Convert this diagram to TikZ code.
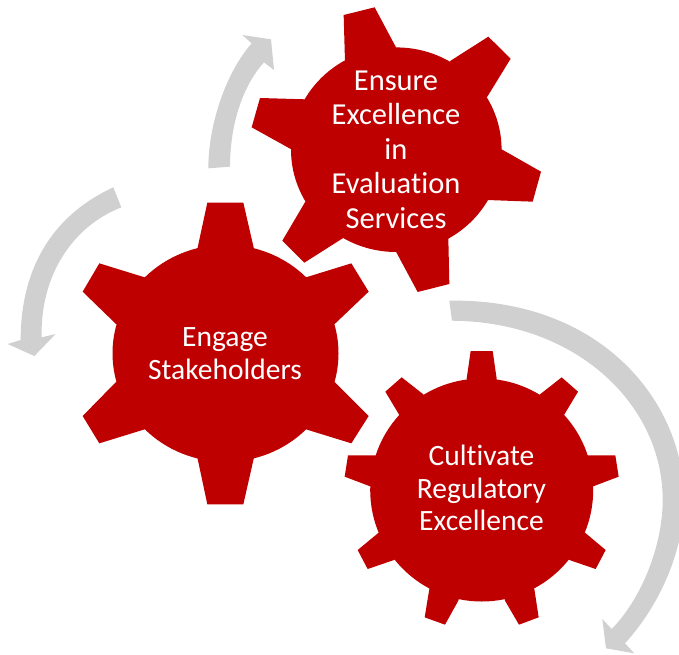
\documentclass[tikz,border=0pt]{standalone}
\usepackage{fontspec}
\usetikzlibrary{shapes.geometric}
\setmainfont[Ligatures=CommonOff]{Carlito}
\definecolor{gearred}{HTML}{BE0000}
\definecolor{arrowgray}{HTML}{D0D0D0}
\tikzset{
  gearbody/.style={ellipse,fill=gearred,inner sep=0pt,outer sep=0pt},
  tooth/.style={fill=gearred},
  flowarrow/.style={fill=arrowgray},
  gearlabel/.style={text=white,align=center,inner sep=0pt,font=\fontsize{29.5}{32.7}\selectfont},
  gearlabelbig/.style={gearlabel,font=\fontsize{30.5}{34.5}\selectfont}
}
\begin{document}
\begin{tikzpicture}[x=1pt,y=-1pt]
\useasboundingbox (0,0) rectangle (679,654);
% grey arrows
\begin{scope}[shift={(200,0)},x=0.33333pt,y=-0.33333pt]
\fill[flowarrow] (25,505) .. controls (25,370) and (80,215) .. (155,130) -- (127,105) -- (213,118) -- (222,210) -- (192,187) .. controls (130,255) and (90,370) .. (90,500) -- cycle;
\end{scope}
\begin{scope}[shift={(0,180)},x=0.33333pt,y=-0.33333pt]
\fill[flowarrow] (340,22) .. controls (170,100) and (62,250) .. (62,480) -- (23,492) -- (103,528) -- (167,462) -- (125,472) .. controls (120,290) and (215,140) .. (364,82) -- cycle;
\end{scope}
\fill[flowarrow] (449.3,300.7) .. controls (599,298) and (684,400) .. (684,500)
  .. controls (684,550) and (660,605) .. (625,643.3)
  -- (634.3,653.3) -- (606,648.3) -- (602.3,619) -- (611.7,629)
  .. controls (642,598) and (662.7,545) .. (662.7,500)
  .. controls (662.7,405) and (577,321.5) .. (452,320.7) -- cycle;
% gear: Ensure Excellence
\begin{scope}[shift={(200,0)},x=0.33333pt,y=-0.33333pt]
\fill[tooth] (589,449) -- (435,185) -- (431,45) -- (524,22) -- (588,142) -- cycle;
\fill[tooth] (589,449) -- (752,182) -- (865,110) -- (932,176) -- (862,290) -- cycle;
\fill[tooth] (589,449) -- (905,448) -- (1023,515) -- (998,605) -- (862,600) -- cycle;
\fill[tooth] (589,449) -- (745,715) -- (748,852) -- (653,876) -- (588,755) -- cycle;
\fill[tooth] (589,449) -- (428,715) -- (313,788) -- (247,722) -- (316,605) -- cycle;
\fill[tooth] (589,449) -- (274,448) -- (155,382) -- (180,294) -- (318,298) -- cycle;
\end{scope}
\node[gearbody,minimum width=210.6pt,minimum height=204.6pt] (ensure) at (396.3,149.7) {};
\node[gearlabelbig] (ensuretext) at (396,149.5) {Ensure\\Excellence\\in\\Evaluation\\Services};
% gear: Engage Stakeholders
\begin{scope}[shift={(0,180)},x=0.33333pt,y=-0.33333pt]
\fill[tooth] (676,520) -- (592,207) -- (622,68) -- (730,68) -- (762,207) -- cycle;
\fill[tooth] (676,520) -- (918,292) -- (1054,250) -- (1106,335) -- (1004,432) -- cycle;
\fill[tooth] (676,520) -- (1004,606) -- (1106,708) -- (1054,790) -- (918,748) -- cycle;
\fill[tooth] (676,520) -- (762,832) -- (730,973) -- (622,973) -- (592,832) -- cycle;
\fill[tooth] (676,520) -- (434,748) -- (298,790) -- (248,708) -- (348,606) -- cycle;
\fill[tooth] (676,520) -- (348,432) -- (248,335) -- (298,250) -- (434,292) -- cycle;
\end{scope}
\node[gearbody,minimum width=226pt,minimum height=217pt] (engage) at (225.5,353.3) {};
\node[gearlabel] (engagetext) at (225,353.5) {Engage\\Stakeholders};
% gear: Cultivate Regulatory Excellence
\begin{scope}[shift={(340,290)},x=0.33333pt,y=-0.33333pt]
\fill[tooth] (425,600) -- (380,266) -- (392,183) -- (458,183) -- (470,266) -- cycle;
\fill[tooth] (425,600) -- (600,313) -- (665,262) -- (714,305) -- (672,375) -- cycle;
\fill[tooth] (425,600) -- (740,496) -- (826,496) -- (836,560) -- (757,590) -- cycle;
\fill[tooth] (425,600) -- (735,728) -- (797,780) -- (767,837) -- (688,810) -- cycle;
\fill[tooth] (425,600) -- (583,897) -- (596,982) -- (537,1004) -- (495,932) -- cycle;
\fill[tooth] (425,600) -- (355,932) -- (315,1004) -- (254,982) -- (268,897) -- cycle;
\fill[tooth] (425,600) -- (162,810) -- (83,837) -- (53,780) -- (116,728) -- cycle;
\fill[tooth] (425,600) -- (93,590) -- (14,560) -- (24,496) -- (110,496) -- cycle;
\fill[tooth] (425,600) -- (178,375) -- (136,305) -- (185,262) -- (250,313) -- cycle;
\end{scope}
\node[gearbody,minimum size=223pt] (cultivate) at (481.7,490) {};
\node[gearlabel] (cultivatetext) at (481.5,488) {Cultivate\\Regulatory\\Excellence};
\end{tikzpicture}
\end{document}
